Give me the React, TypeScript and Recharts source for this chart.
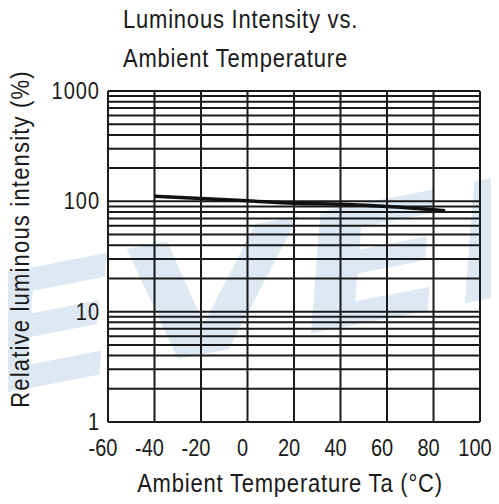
import React from 'react';
import { LineChart, Line, XAxis, YAxis, CartesianGrid } from 'recharts';

// Relative luminous intensity (%) against ambient temperature (°C)
const temps = [-40, -20, 0, 20, 40, 60, 80, 85];
const intensity = [111, 106, 101, 96, 94, 90, 84, 82];

const xTicks = [-60, -40, -20, 0, 20, 40, 60, 80, 100];
const yTicks = [1, 10, 100, 1000];
// log grid: 1..9 in each decade
const yGrid = [1, 2, 3, 4, 5, 6, 7, 8, 9, 10, 20, 30, 40, 50, 60, 70, 80, 90, 100, 200, 300, 400, 500, 600, 700, 800, 900, 1000];

const data = temps.map((t, i) => ({ t, v: intensity[i] }));

const W = 491;
const H = 496;
const FONT = '"Liberation Sans", Arial, sans-serif';
const INK = '#1a1a1a';
const STRETCH = 1.15;

const XTick = (props: any) => {
  const { x, y, payload } = props;
  return (
    <text
      transform={`translate(${x - 5},${y + 18}) scale(1,${STRETCH})`}
      textAnchor="middle"
      dominantBaseline="central"
      fontFamily={FONT}
      fontSize={20}
      fill={INK}
    >
      {payload.value}
    </text>
  );
};

const YTick = (props: any) => {
  const { y, payload } = props;
  return (
    <text
      transform={`translate(92,${y}) scale(1,${STRETCH})`}
      textAnchor="end"
      dominantBaseline="central"
      fontFamily={FONT}
      fontSize={20}
      letterSpacing={1}
      fill={INK}
    >
      {payload.value}
    </text>
  );
};

const textStyle = { fontFamily: FONT, fontSize: 22, letterSpacing: 0.8, fill: INK };

export default function App() {
  return (
    <div style={{ position: 'relative', width: W, height: H }}>
      <svg width={W} height={H} style={{ position: 'absolute', left: 0, top: 0 }}>
        <defs>
          <linearGradient id="wm" gradientUnits="userSpaceOnUse" x1="0" y1="180" x2="0" y2="400">
            <stop offset="0" stopColor="#dde8f3" />
            <stop offset="0.6" stopColor="#e6eef7" />
            <stop offset="1" stopColor="#ffffff" />
          </linearGradient>
        </defs>
        {/* faint logo lettering behind the grid */}
        <g transform="translate(-30,390) rotate(-11) scale(1.35,0.95)">
          <text
            x={0}
            y={0}
            fontFamily='"DejaVu Sans", sans-serif'
            fontWeight="bold"
            fontStyle="italic"
            fontSize={170}
            fill="url(#wm)"
          >
            EVER
          </text>
        </g>
      </svg>
      <div style={{ position: 'absolute', left: 0, top: 0 }}>
        <LineChart width={W} height={H} data={data} margin={{ top: 83, right: 19, bottom: 52, left: 40 }}>
          <CartesianGrid
            stroke={INK}
            strokeWidth={2}
            horizontalValues={yGrid}
            verticalValues={xTicks}
          />
          <XAxis
            dataKey="t"
            type="number"
            domain={[-60, 100]}
            ticks={xTicks}
            tick={<XTick />}
            tickLine={false}
            axisLine={false}
            height={30}
            interval={0}
          />
          <YAxis
            type="number"
            scale="log"
            domain={[1, 1000]}
            ticks={yTicks}
            tick={<YTick />}
            tickLine={false}
            axisLine={false}
            width={60}
            allowDataOverflow
            interval={0}
          />
          <Line
            dataKey="v"
            type="monotone"
            stroke="#111"
            strokeWidth={3.5}
            dot={false}
            isAnimationActive={false}
          />
        </LineChart>
      </div>
      {/* titles, drawn in page coordinates (svg sits over the body margin) */}
      <svg width={499} height={504} style={{ position: 'absolute', left: -8, top: -8, pointerEvents: 'none' }}>
        <g transform={`translate(123,28) scale(1,${STRETCH})`}>
          <text x={0} y={0} {...textStyle}>Luminous Intensity vs.</text>
        </g>
        <g transform={`translate(123,67) scale(1,${STRETCH})`}>
          <text x={0} y={0} {...textStyle}>Ambient Temperature</text>
        </g>
        <g transform={`translate(290,492) scale(1,${STRETCH})`}>
          <text x={0} y={0} textAnchor="middle" {...textStyle}>Ambient Temperature Ta (°C)</text>
        </g>
        <g transform={`translate(29,239) rotate(-90) scale(1,${STRETCH})`}>
          <text x={0} y={0} textAnchor="middle" {...textStyle} letterSpacing={1.2}>
            Relative luminous intensity (%)
          </text>
        </g>
      </svg>
    </div>
  );
}
